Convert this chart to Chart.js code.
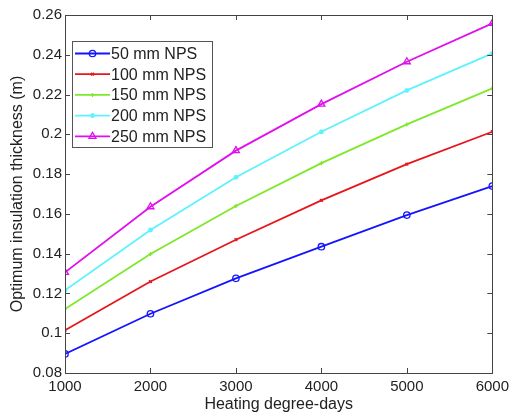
<!DOCTYPE html>
<html>
<head>
<meta charset="utf-8">
<script src="https://cdn.jsdelivr.net/npm/chart.js@4"></script>
<style>
  html, body { margin: 0; padding: 0; background: #fff; }
  #wrap { width: 514px; height: 417px; }
</style>
</head>
<body>
<div id="wrap"><canvas id="thicknessChart" width="514" height="417"></canvas></div>
<script>
// =========================
// DATA
// =========================
const degreeDays = [1000, 2000, 3000, 4000, 5000, 6000];
const nps50  = [0.0896, 0.1098, 0.1276, 0.1435, 0.1594, 0.1740];
const nps100 = [0.1015, 0.1260, 0.1470, 0.1668, 0.1850, 0.2013];
const nps150 = [0.1122, 0.1398, 0.1640, 0.1855, 0.2050, 0.2231];
const nps200 = [0.1216, 0.1519, 0.1784, 0.2013, 0.2221, 0.2407];
const nps250 = [0.1306, 0.1636, 0.1918, 0.2152, 0.2365, 0.2558];
const seriesNames = ['50 mm NPS', '100 mm NPS', '150 mm NPS', '200 mm NPS', '250 mm NPS'];
const yTicks = [0.08, 0.10, 0.12, 0.14, 0.16, 0.18, 0.20, 0.22, 0.24, 0.26];

const FONT = "'Liberation Sans', Arial, sans-serif";
const INK = '#222';

function toPoints(values) {
    return degreeDays.map((d, i) => ({ x: d, y: values[i] }));
}

function series(label, values, color, style, radius) {
    return {
        label: label,
        data: toPoints(values),
        borderColor: color,
        backgroundColor: 'transparent',
        pointBorderColor: color,
        pointBackgroundColor: 'transparent',
        pointStyle: style,
        pointRadius: radius,
        pointBorderWidth: 1.3,
        borderWidth: 1.8,
        tension: 0
    };
}

// =========================
// FRAME + INWARD TICKS + LEGEND
// =========================
const matlabFrame = {
    id: 'matlabFrame',
    afterDatasetsDraw(chart) {
        const ctx = chart.ctx;
        const a = chart.chartArea;
        const xs = chart.scales.x;
        const ys = chart.scales.y;
        const len = 5;

        ctx.save();
        ctx.strokeStyle = '#444';
        ctx.lineWidth = 1;
        ctx.beginPath();
        xs.ticks.forEach(t => {
            const px = Math.round(xs.getPixelForValue(t.value)) + 0.5;
            ctx.moveTo(px, a.bottom); ctx.lineTo(px, a.bottom - len);
            ctx.moveTo(px, a.top); ctx.lineTo(px, a.top + len);
        });
        ys.ticks.forEach(t => {
            const py = Math.round(ys.getPixelForValue(t.value)) + 0.5;
            ctx.moveTo(a.left, py); ctx.lineTo(a.left + len, py);
            ctx.moveTo(a.right, py); ctx.lineTo(a.right - len, py);
        });
        ctx.stroke();
        ctx.strokeRect(Math.round(a.left) + 0.5, Math.round(a.top) + 0.5,
            Math.round(a.right - a.left), Math.round(a.bottom - a.top));

        // legend box inside the axes
        const bx = a.left + 7, by = a.top + 26, bw = 140, bh = 106;
        ctx.fillStyle = '#fff';
        ctx.fillRect(bx, by, bw, bh);
        ctx.strokeStyle = '#555';
        ctx.strokeRect(bx + 0.5, by + 0.5, bw, bh);

        ctx.font = '16px ' + FONT;
        ctx.textBaseline = 'middle';
        chart.data.datasets.forEach((ds, i) => {
            const cy = by + 12.5 + i * 20.7;
            ctx.strokeStyle = ds.borderColor;
            ctx.lineWidth = ds.borderWidth;
            ctx.beginPath();
            ctx.moveTo(bx + 3, cy);
            ctx.lineTo(bx + 38, cy);
            ctx.stroke();
            ctx.lineWidth = ds.pointBorderWidth;
            ctx.fillStyle = 'transparent';
            Chart.helpers.drawPoint(ctx, {
                pointStyle: ds.pointStyle,
                radius: ds.pointRadius,
                borderWidth: ds.pointBorderWidth,
                rotation: 0
            }, bx + 20.5, cy);
            ctx.fillStyle = INK;
            ctx.fillText(ds.label, bx + 39, cy + 1);
        });
        ctx.restore();
    }
};

// =========================
// CHART
// =========================
const ctx = document.getElementById('thicknessChart').getContext('2d');
new Chart(ctx, {
    type: 'line',
    data: {
        datasets: [
            series(seriesNames[0], nps50,  '#1414ff', 'circle', 3.2),
            series(seriesNames[1], nps100, '#e8161c', 'crossRot', 2),
            series(seriesNames[2], nps150, '#7ee82a', 'cross', 2),
            series(seriesNames[3], nps200, '#5ef2ff', 'star', 2.5),
            series(seriesNames[4], nps250, '#e010ee', 'triangle', 4)
        ]
    },
    options: {
        responsive: false,
        animation: false,
        layout: { padding: { left: 0, right: 19, top: 15, bottom: 0 } },
        plugins: {
            legend: { display: false },
            tooltip: { enabled: false }
        },
        scales: {
            x: {
                type: 'linear',
                min: 1000,
                max: 6000,
                afterFit: s => { s.height = 44; },
                afterBuildTicks: s => { s.ticks = degreeDays.map(v => ({ value: v })); },
                grid: { display: false, drawTicks: false },
                border: { display: false },
                ticks: {
                    padding: 5,
                    color: INK,
                    font: { family: FONT, size: 15 },
                    maxRotation: 0,
                    callback: v => String(v)
                },
                title: {
                    display: true,
                    text: 'Heating degree-days',
                    color: INK,
                    font: { family: FONT, size: 16 },
                    padding: { top: 0, bottom: 3 }
                }
            },
            y: {
                min: 0.08,
                max: 0.26,
                afterFit: s => { s.width = 65; },
                afterBuildTicks: s => { s.ticks = yTicks.map(v => ({ value: v })); },
                grid: { display: false, drawTicks: false },
                border: { display: false },
                ticks: {
                    padding: 3,
                    color: INK,
                    font: { family: FONT, size: 15 },
                    callback: v => String(+v.toFixed(2))
                },
                title: {
                    display: true,
                    text: 'Optimum insulation thickness (m)',
                    color: INK,
                    font: { family: FONT, size: 16 },
                    padding: { top: 8, bottom: 0 }
                }
            }
        }
    },
    plugins: [matlabFrame]
});
</script>
</body>
</html>
